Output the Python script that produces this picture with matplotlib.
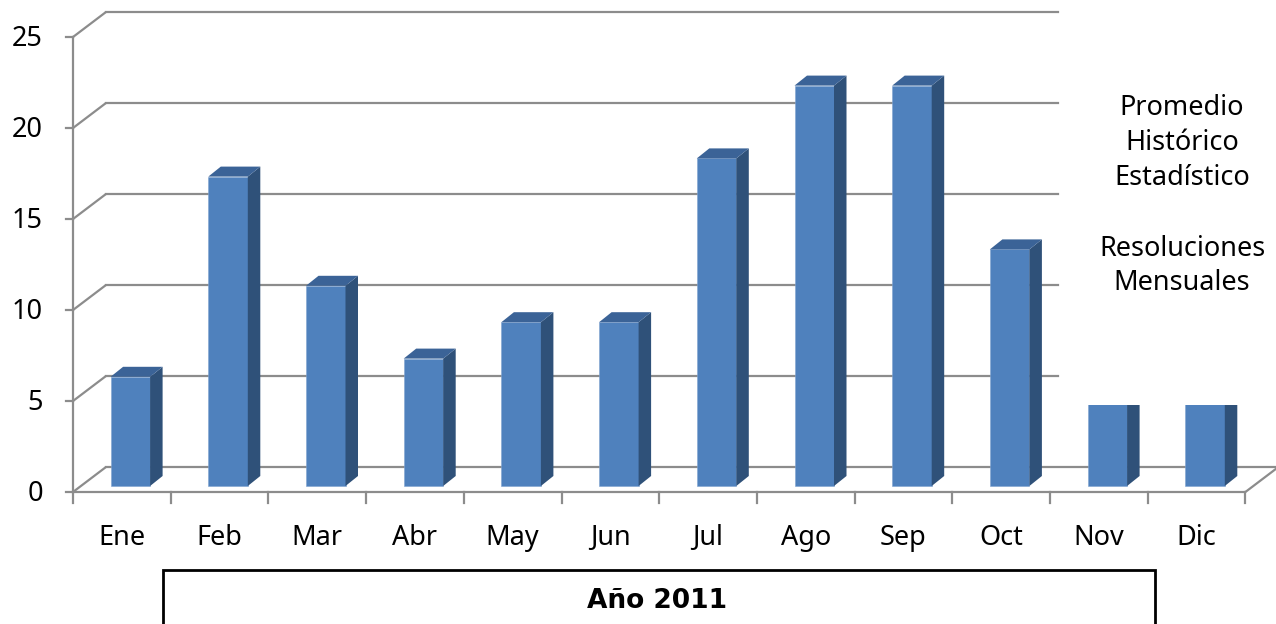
import matplotlib
matplotlib.use("Agg")
import matplotlib.pyplot as plt
from matplotlib.patches import Polygon, Rectangle

# ---- data ----
months = ["Ene", "Feb", "Mar", "Abr", "May", "Jun", "Jul", "Ago", "Sep", "Oct", "Nov", "Dic"]
resoluciones = [6, 17, 11, 7, 9, 9, 18, 22, 22, 13, 5, 5]
y_ticks = [0, 5, 10, 15, 20, 25]
legend_labels = ["Promedio\nHistórico\nEstadístico", "Resoluciones\nMensuales"]
title = "Año 2011"

# ---- layout (pixel-based style constants) ----
W, H = 1276, 624
X0, Y0 = 73, 492          # pixel of the front origin
PXC, PXV = 97.7, 18.2     # px per category / px per value unit

def px(d):
    return d / PXC

def pv(d):
    return d / PXV

FRONT = "#4F81BD"
SIDE = "#2F5179"
TOP = "#3B6397"
GRID = "#8C8C8C"
FONT = "Noto Sans"
FS = 19.5

fig = plt.figure(figsize=(W / 100, H / 100), dpi=100)
ax = fig.add_axes([0, 0, 1, 1])
ax.set_xlim(-X0 / PXC, (W - X0) / PXC)
ax.set_ylim(-(H - Y0) / PXV, Y0 / PXV)
ax.axis("off")

n = len(months)
bdx, bdy = px(33), pv(25)      # back-wall offset
grid_end = px(1058 - X0)

# gridlines (back wall) + diagonals
for v in y_ticks:
    ax.plot([0, bdx], [v, v + bdy], color=GRID, lw=1.6, zorder=1, solid_capstyle="butt")
    xe = n + bdx + 1 if v == 0 else grid_end
    ax.plot([bdx, xe], [v + bdy, v + bdy], color=GRID, lw=1.6, zorder=1)
    # y tick marks
    ax.plot([-px(7), 0], [v, v], color=GRID, lw=1.6, zorder=1)
    ax.text(-px(30), v - pv(2), str(v), ha="right", va="center", fontsize=FS,
            family=FONT, color="black")

# floor
ax.plot([0, n], [0, 0], color=GRID, lw=1.6, zorder=3)
ax.plot([n, n + bdx], [0, bdy], color=GRID, lw=1.6, zorder=3)
# front vertical axis
ax.plot([0, 0], [0, y_ticks[-1]], color=GRID, lw=1.6, zorder=1)

# category tick marks and labels
for i in range(n + 1):
    ax.plot([i, i], [0, -pv(11)], color=GRID, lw=1.6, zorder=3)
for i, m in enumerate(months):
    ax.text(i + 0.5, -pv(46), m, ha="center", va="center", fontsize=FS,
            family=FONT, color="black")

# bars (pseudo-3D)
fdx, fdy = px(8.5), pv(6)      # front plane of bars
ddx, ddy = px(12.5), pv(10)    # bar depth
bw = px(39.5)
xs = [i + 0.5 + fdx for i in range(n)]
ax.bar(xs, resoluciones, width=bw, bottom=fdy, color=FRONT, zorder=4,
       edgecolor="#7FA3D0", linewidth=0.4)
for x, v in zip(xs, resoluciones):
    xr = x + bw / 2
    xl = x - bw / 2
    top = v + fdy
    side = Polygon([(xr, fdy), (xr + ddx, fdy + ddy), (xr + ddx, top + ddy), (xr, top)],
                   closed=True, facecolor=SIDE, edgecolor="none", zorder=4)
    topf = Polygon([(xl, top), (xl + ddx, top + ddy), (xr + ddx, top + ddy), (xr, top)],
                   closed=True, facecolor=TOP, edgecolor="none", zorder=4)
    ax.add_patch(side)
    ax.add_patch(topf)

# legend area (white, covers the right of the wall)
ax.add_patch(Rectangle((px(1060 - X0), pv(Y0 - 405)), px(W - 1060 + 10), pv(420),
                       facecolor="white", edgecolor="none", zorder=6))
ax.text(px(1182 - X0), pv(Y0 - 143), legend_labels[0], ha="center", va="center",
        fontsize=FS, family=FONT, linespacing=1.32, zorder=7)
ax.text(px(1182 - X0), pv(Y0 - 266), legend_labels[1], ha="center", va="center",
        fontsize=FS, family=FONT, linespacing=1.32, zorder=7)

# title box
fig.patches.append(Rectangle((163 / W, -0.02), (1155 - 163) / W, (624 - 570) / H + 0.02,
                             transform=fig.transFigure, fill=False, edgecolor="black",
                             linewidth=2, zorder=5))
fig.text(657 / W, 1 - 601 / H, title, ha="center", va="center", fontsize=19,
         fontweight="bold", family="DejaVu Sans")

fig.savefig("out.png", dpi=100, facecolor="white")
